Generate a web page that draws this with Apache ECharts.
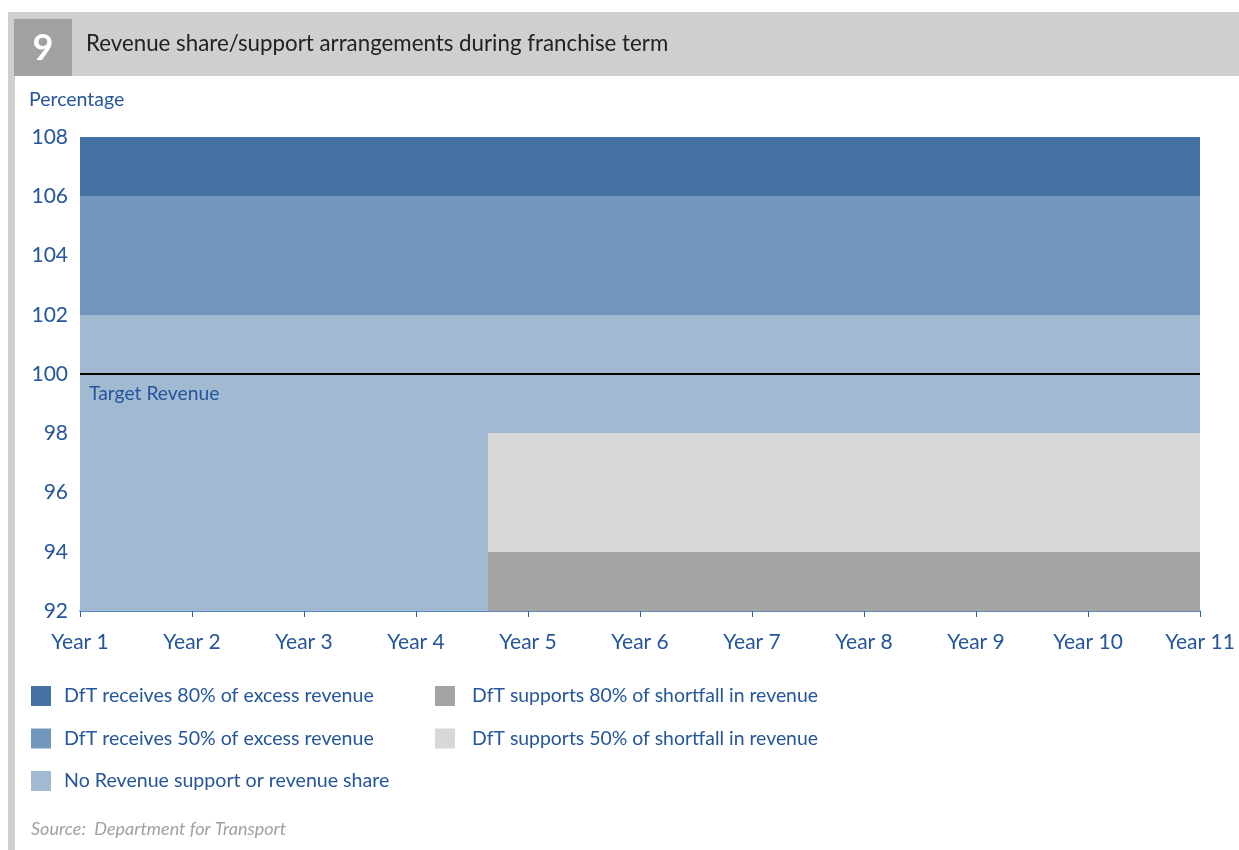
<!DOCTYPE html>
<html>
<head>
<meta charset="utf-8">
<script src="https://cdn.jsdelivr.net/npm/echarts@6/dist/echarts.min.js"></script>
<style>html,body{margin:0;padding:0;background:#fff;}#chart{width:1239px;height:850px;}</style>
</head>
<body>
<div id="chart"></div>
<script>
// ---- data ----
const yearTicks = [1, 2, 3, 4, 5, 6, 7, 8, 9, 10, 11];
const yTicks = [92, 94, 96, 98, 100, 102, 104, 106, 108];
const switchYear = 4.64;           // where revenue support begins
const targetRevenue = [[1, 100], [11, 100]];
// bands: [startYear, endYear, lowPct, highPct]
const excess80 = [[1, 11, 106, 108]];
const excess50 = [[1, 11, 102, 106]];
const noSupport = [[1, switchYear, 92, 102], [switchYear, 11, 98, 102]];
const shortfall50 = [[switchYear, 11, 94, 98]];
const shortfall80 = [[switchYear, 11, 92, 94]];

const blue = '#25559a';
const font = 'Lato, "Noto Sans", sans-serif';

function renderRect(params, api) {
  const p0 = api.coord([api.value(0), api.value(3)]);
  const p1 = api.coord([api.value(1), api.value(2)]);
  const x0 = Math.round(p0[0]), x1 = Math.round(p1[0]);
  const y0 = Math.round(p0[1]), y1 = Math.round(p1[1]);
  return {
    type: 'rect',
    shape: { x: x0, y: y0, width: x1 - x0, height: y1 - y0 },
    style: { fill: api.visual('color') }
  };
}
function band(name, data, color) {
  return {
    type: 'custom', name: name, data: data, renderItem: renderRect,
    itemStyle: { color: color }, encode: { x: [0, 1], y: [2, 3] }, z: 1, silent: true
  };
}

const chart = echarts.init(document.getElementById('chart'));
chart.setOption({
  animation: false,
  textStyle: { fontFamily: font },
  grid: { left: 80, right: 39, top: 137, bottom: 239, containLabel: false },
  xAxis: {
    type: 'value', min: yearTicks[0], max: yearTicks[yearTicks.length - 1], interval: 1,
    axisLine: { lineStyle: { color: '#2e64a6', width: 1.5 } },
    axisTick: { show: true, length: 6, lineStyle: { color: '#2e64a6' } },
    splitLine: { show: false },
    axisLabel: { formatter: v => 'Year ' + v, color: blue, fontSize: 21, margin: 21, fontFamily: font }
  },
  yAxis: {
    type: 'value', min: yTicks[0], max: yTicks[yTicks.length - 1], interval: 2,
    axisLine: { show: false }, axisTick: { show: false }, splitLine: { show: false },
    axisLabel: { color: blue, fontSize: 21, margin: 12, fontFamily: font }
  },
  legend: [
    {
      data: ['DfT receives 80% of excess revenue', 'DfT receives 50% of excess revenue', 'No Revenue support or revenue share'],
      orient: 'vertical', left: 26, top: 681, itemWidth: 20, itemHeight: 20, itemGap: 22.5,
      icon: 'rect', selectedMode: false,
      textStyle: { color: blue, fontSize: 19.6, fontFamily: font, padding: [0, 0, 0, 8] }
    },
    {
      data: ['DfT supports 80% of shortfall in revenue', 'DfT supports 50% of shortfall in revenue'],
      orient: 'vertical', left: 430, top: 681, itemWidth: 20, itemHeight: 20, itemGap: 22.5,
      icon: 'rect', selectedMode: false,
      textStyle: { color: blue, fontSize: 19.4, fontFamily: font, padding: [0, 0, 0, 12] }
    }
  ],
  graphic: [
    { type: 'rect', shape: { x: 8, y: 12, width: 1231, height: 64 }, style: { fill: '#cfcfcd' } },
    { type: 'rect', shape: { x: 8, y: 76, width: 7, height: 774 }, style: { fill: '#cfcfcd' } },
    { type: 'rect', shape: { x: 14, y: 19, width: 58, height: 57 }, style: { fill: '#a1a1a1' } },
    { type: 'text', x: 43, y: 48, style: { text: '9', fill: '#fff', font: 'bold 36px ' + font, textAlign: 'center', textVerticalAlign: 'middle' } },
    { type: 'text', x: 86, y: 44, style: { text: 'Revenue share/support arrangements during franchise term', fill: '#222', font: '22.3px ' + font, textVerticalAlign: 'middle' } },
    { type: 'text', x: 29, y: 100, style: { text: 'Percentage', fill: blue, font: '19.5px ' + font, textVerticalAlign: 'middle' } },
    { type: 'text', x: 31, y: 829, style: { text: 'Source:  Department for Transport', fill: '#a0a0a0', font: 'italic 18px ' + font, textVerticalAlign: 'middle' } }
  ],
  series: [
    band('DfT receives 80% of excess revenue', excess80, '#4472a4'),
    band('DfT receives 50% of excess revenue', excess50, '#7297bd'),
    band('No Revenue support or revenue share', noSupport, '#a2b9d2'),
    band('DfT supports 80% of shortfall in revenue', shortfall80, '#a4a4a4'),
    band('DfT supports 50% of shortfall in revenue', shortfall50, '#d8d8d8'),
    {
      type: 'line', name: 'Target Revenue', data: targetRevenue, showSymbol: false, silent: true, z: 5,
      lineStyle: { color: '#000', width: 2 },
      markLine: {
        silent: true, symbol: 'none',
        lineStyle: { color: '#000', width: 2, type: 'solid' },
        data: [{ yAxis: targetRevenue[0][1] }],
        label: { show: true, formatter: 'Target Revenue', position: 'insideStartBottom', distance: [9, 10], color: blue, fontSize: 19.3, fontFamily: font }
      }
    }
  ]
});
</script>
</body>
</html>
